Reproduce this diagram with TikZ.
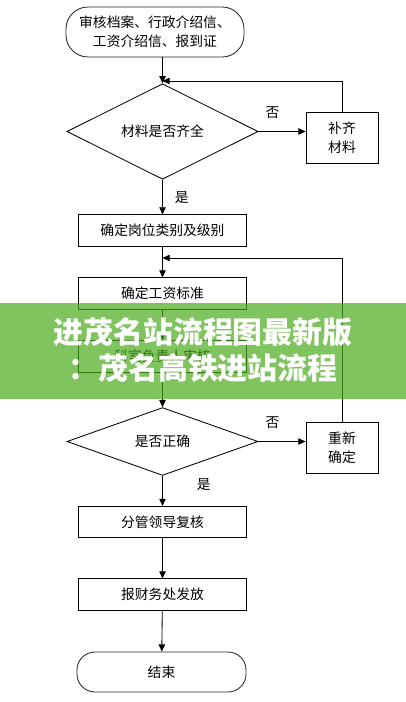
\documentclass[tikz,border=0pt]{standalone}
\usepackage{fontspec}
\newfontfamily\cnfont{Noto Sans CJK SC}
\usetikzlibrary{shapes.geometric,arrows.meta,positioning,calc}
\definecolor{bannergreen}{RGB}{74,171,28}

\begin{document}
\begin{tikzpicture}[
    x=0.025cm, y=-0.025cm,
    % --- STYLES ---
    action/.style={
        rectangle, draw=black, fill=white,
        minimum width=4.2cm,
        minimum height=0.78cm,
        align=center, font=\cnfont\fontsize{9.8}{13.5}\selectfont,
        inner sep=2pt, line width=0.6pt
    },
    sidebox/.style={
        action, minimum width=1.8cm, minimum height=1.275cm
    },
    decision/.style={
        diamond, draw=black, fill=white,
        inner sep=0pt, minimum width=4.775cm, minimum height=1.425cm,
        font=\cnfont\fontsize{9.8}{13.5}\selectfont,
        align=center, line width=0.6pt
    },
    terminal/.style={
        rectangle, rounded corners=0.55cm,
        draw=black!85, fill=white, line width=0.6pt,
        align=center, font=\cnfont\fontsize{9.8}{13.5}\selectfont
    },
    lbl/.style={font=\cnfont\fontsize{9.8}{13.5}\selectfont, inner sep=0pt},
    control/.style={->, line width=0.6pt, >={Triangle[length=0.18cm,width=0.16cm]}},
    banner/.style={font=\cnfont\bfseries\fontsize{21.3}{25.6}\selectfont, text=white, inner sep=0pt}
]
\useasboundingbox (0,0) rectangle (406,702);

% ===== 1. COORDINATES =====
\def\xMain{162.5}
\def\xSide{342}

% ===== 2. MAIN COLUMN =====
\node[terminal, minimum width=4.45cm, minimum height=1.25cm] (start) at (155,32)
    {审核档案、行政介绍信、\\工资介绍信、报到证};

\node[decision] (d1) at (\xMain,131.5) {材料是否齐全};

\node[action] (b1) at (\xMain,230.5) {确定岗位类别及级别};
\node[action] (b2) at (\xMain,293.5) {确定工资标准};
\node[action] (b3) at (\xMain,356.5) {科室负责人审核};

\node[decision] (d2) at (\xMain,441.5) {是否正确};

\node[action] (b4) at (\xMain,522) {分管领导复核};
\node[action] (b5) at (\xMain,594.5) {报财务处发放};

\node[terminal, rounded corners=0.45cm, minimum width=4.225cm, minimum height=1cm] (end) at (161.5,672) {结束};

% ===== 3. SIDE BOXES =====
\node[sidebox] (r1) at (\xSide,137.5) {补齐\\材料};
\node[sidebox] (r2) at (\xSide,447.5) {重新\\确定};

\coordinate (join1) at (\xMain,81);
\coordinate (join2) at (\xMain,258);

% ===== 4. CONNECTIONS =====
\draw[control] (start.south -| d1.north) -- (d1.north);
\draw[control] (d1.south) -- node[lbl, pos=0.5, right=0.3cm] (yes1) {是} (b1.north);
\draw[control] (d1.east) -- node[lbl, pos=0.3, above=0.3cm] (no1) {否} (d1.east -| r1.west);
\draw[control] (r1.north) |- (join1);

\draw[control] (b1) -- (b2);
\draw[control] (b2) -- (b3);
\draw[control] (b3) -- (d2);

\draw[control] (d2.south) -- node[lbl, pos=0.28, right=0.85cm] (yes2) {是} (b4.north);
\draw[control] (d2.east) -- node[lbl, pos=0.3, above=0.3cm] (no2) {否} (d2.east -| r2.west);
\draw[control] (r2.north) |- (join2);

\draw[control] (b4) -- (b5);
\draw[control] (b5) -- (end);

% ===== 5. BANNER =====
\fill[bannergreen, opacity=0.7] (0,303) rectangle (406,399);
\node[banner] (title1) at (203,332) {进茂名站流程图最新版};
\node[banner] (title2) at (203,368) {：茂名高铁进站流程};

\end{tikzpicture}
\end{document}
